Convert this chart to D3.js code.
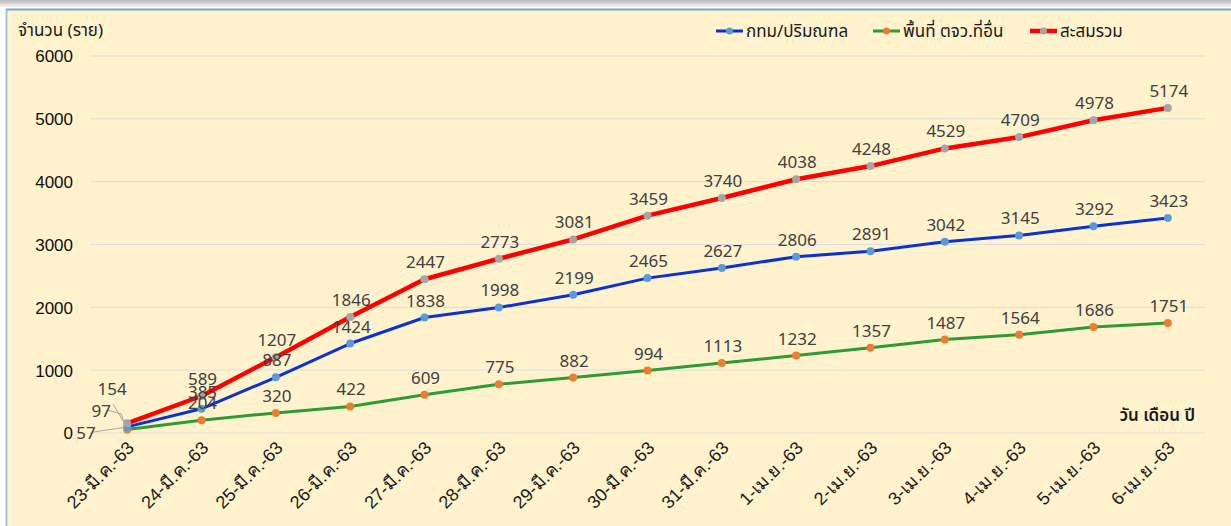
<!DOCTYPE html>
<html><head><meta charset="utf-8">
<script src="https://cdn.jsdelivr.net/npm/d3@7"></script>
<style>
html,body{margin:0;padding:0;background:#fff;}
svg{display:block;font-family:"Noto Sans","Noto Sans Thai",Tahoma,"DejaVu Sans",sans-serif;}
</style></head>
<body>
<svg id="c" width="1231" height="526"></svg>
<script>
const categories = ["23-มี.ค.-63","24-มี.ค.-63","25-มี.ค.-63","26-มี.ค.-63","27-มี.ค.-63","28-มี.ค.-63","29-มี.ค.-63","30-มี.ค.-63","31-มี.ค.-63","1-เม.ย.-63","2-เม.ย.-63","3-เม.ย.-63","4-เม.ย.-63","5-เม.ย.-63","6-เม.ย.-63"];
const bangkok = [97,385,887,1424,1838,1998,2199,2465,2627,2806,2891,3042,3145,3292,3423];
const provinces = [57,204,320,422,609,775,882,994,1113,1232,1357,1487,1564,1686,1751];
const total = [154,589,1207,1846,2447,2773,3081,3459,3740,4038,4248,4529,4709,4978,5174];
const yTicks = [0,1000,2000,3000,4000,5000,6000];
const seriesNames = ["กทม/ปริมณฑล","พื้นที่ ตจว.ที่อื่น","สะสมรวม"];

const svg = d3.select("#c");
// frame
const defs = svg.append("defs");
const g0 = defs.append("linearGradient").attr("id","tg").attr("x1",0).attr("x2",0).attr("y1",0).attr("y2",1);
g0.append("stop").attr("offset","0%").attr("stop-color","#b8b8b8");
g0.append("stop").attr("offset","100%").attr("stop-color","#f4f4f4");
svg.append("rect").attr("x",0).attr("y",0).attr("width",1231).attr("height",7).attr("fill","url(#tg)");
svg.append("rect").attr("x",6).attr("y",9).attr("width",1225).attr("height",517).attr("fill","#fff2cc");
svg.append("line").attr("x1",6).attr("x2",1231).attr("y1",9.5).attr("y2",9.5).attr("stroke","#6fa8d0").attr("stroke-width",2);
svg.append("line").attr("x1",6.5).attr("x2",6.5).attr("y1",9).attr("y2",526).attr("stroke","#9dc3e6").attr("stroke-width",2);

const x = d3.scaleBand().domain(categories).range([90,1205]);
const y = d3.scaleLinear().domain([0,6000]).range([433,56]);
const cx = d => x(d) + x.bandwidth()/2;

// gridlines
svg.append("g").selectAll("line").data(yTicks).join("line")
  .attr("x1",90).attr("x2",1205).attr("y1",d=>y(d)).attr("y2",d=>y(d))
  .attr("stroke","#dcdde0").attr("stroke-width",1);

// y axis
const yAxis = d3.axisLeft(y).tickValues(yTicks).tickSize(0).tickPadding(0).tickFormat(d3.format("d"));
const ya = svg.append("g").attr("transform","translate(73,0)").call(yAxis);
ya.select(".domain").remove();
ya.selectAll("text").attr("font-size",17).attr("fill","#0d0d0d").attr("font-family","inherit").attr("dy","0.35em");

// x axis
const xAxis = d3.axisBottom(x).tickSize(0).tickPadding(0);
const xa = svg.append("g").attr("transform","translate(0,433)").call(xAxis);
xa.select(".domain").remove();
xa.selectAll("text").attr("font-size",18).attr("fill","#1a1a1a").attr("font-family","inherit")
  .attr("text-anchor","end").attr("dy",null).attr("y",0)
  .attr("transform","translate(8,16) rotate(-45)");

// axis titles
svg.append("text").attr("x",18).attr("y",36).attr("font-size",17).attr("fill","#1a1a1a").text("จำนวน (ราย)");
svg.append("text").attr("x",1195).attr("y",421).attr("text-anchor","end").attr("font-size",17).attr("font-weight",600).attr("fill","#1a1a1a").text("วัน เดือน ปี");

const series = [
  {name:seriesNames[0], values:bangkok, line:"#0a32d2", marker:"#5b9bd5", w:3},
  {name:seriesNames[1], values:provinces, line:"#2e9b35", marker:"#ed7d31", w:3},
  {name:seriesNames[2], values:total, line:"#ff0000", marker:"#a5a5a5", w:4.5}
];

const line = d3.line().x((d,i)=>cx(categories[i])).y(d=>y(d));
[series[1],series[0],series[2]].forEach(s=>{
  svg.append("path").attr("d",line(s.values)).attr("fill","none").attr("stroke",s.line)
    .attr("stroke-width",s.w).attr("stroke-linejoin","round").attr("stroke-linecap","round");
});
[series[1],series[0],series[2]].forEach(s=>{
  svg.append("g").selectAll("circle").data(s.values).join("circle")
    .attr("cx",(d,i)=>cx(categories[i])).attr("cy",d=>y(d)).attr("r",4).attr("fill",s.marker);
});

// leader lines for first point
const p0x = cx(categories[0]);
const leaderG = svg.append("g").attr("stroke","#a6a6a6").attr("stroke-width",1).attr("fill","none");
leaderG.append("polyline").attr("points",[[p0x-34,y(0)-1],[p0x-3,y(57)-2]].join(" "));
leaderG.append("polyline").attr("points",[[p0x-20,y(97)-17],[p0x-6,y(97)-13],[p0x-2,y(97)-1]].join(" "));
leaderG.append("polyline").attr("points",[[p0x-14,y(154)-19],[p0x-2,y(154)+1]].join(" "));

// data labels
const lblG = svg.append("g").attr("font-size",17).attr("fill","#404040").attr("text-anchor","middle");
series.forEach(s=>{
  s.values.forEach((v,i)=>{
    if(i===0) return;
    lblG.append("text").attr("x",cx(categories[i])+1).attr("y",y(v)-11).text(v);
  });
});
// first point labels (offset with leaders)
lblG.append("text").attr("x",p0x-15).attr("y",y(154)-28).text(total[0]);
lblG.append("text").attr("x",p0x-26).attr("y",y(97)-10).text(bangkok[0]);
lblG.append("text").attr("x",p0x-51).attr("y",y(57)+10).attr("text-anchor","start").text(provinces[0]);

// legend
const legend = [
  {s:series[0], x:716},
  {s:series[1], x:873},
  {s:series[2], x:1030}
];
const lg = svg.append("g");
legend.forEach(l=>{
  const ly = 31;
  lg.append("line").attr("x1",l.x).attr("x2",l.x+27).attr("y1",ly).attr("y2",ly).attr("stroke",l.s.line).attr("stroke-width",l.s.w);
  lg.append("circle").attr("cx",l.x+13.5).attr("cy",ly).attr("r",3.5).attr("fill",l.s.marker);
  lg.append("text").attr("x",l.x+30).attr("y",ly+6).attr("font-size",17).attr("fill","#1a1a1a").text(l.s.name);
});
</script>
</body></html>
